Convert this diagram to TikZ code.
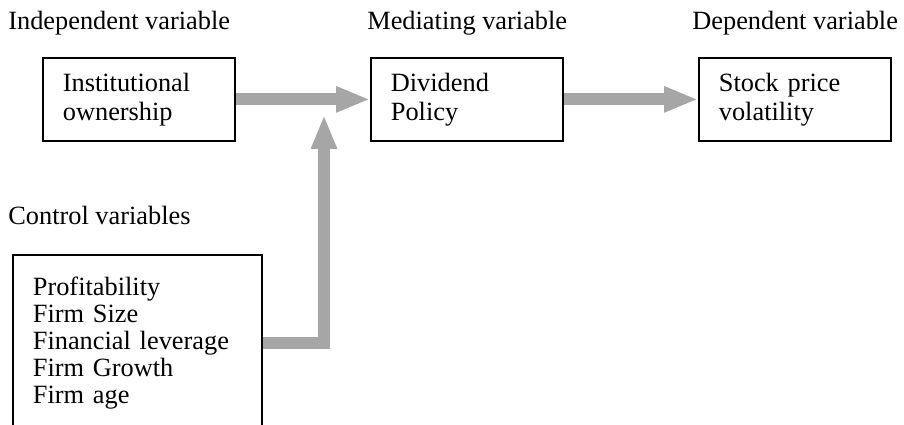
\documentclass[tikz,border=0pt]{standalone}
\usepackage{fontspec}
\setmainfont{Liberation Serif}
\definecolor{modelGray}{HTML}{A6A6A6}
\usepackage{tikz}
\usetikzlibrary{
	arrows.meta,
	positioning,
	calc
}
\tikzset{
	varbox/.style={draw, line width=1pt, minimum height=83*0.02cm, text width=3.04cm, inner xsep=0.4cm, align=left, anchor=north west, font=\fontsize{15}{16.6}\selectfont},
	flow/.style={modelGray, line width=0.24cm, -{Triangle[length=0.68cm, width=0.48cm]}},
	heading/.style={anchor=west, inner sep=0pt}
}

\begin{document}
\begin{tikzpicture}[x=0.02cm, y=-0.02cm, font=\fontsize{15}{15.4}\selectfont]
		\useasboundingbox (0,0) rectangle (904,425);
		\foreach \x/\y/\lab in {8/23/Independent variable, 367/23/Mediating variable, 692/23/Dependent variable, 8/215/Control variables}{
			\node[heading] at (\x,\y) {\lab};
		}
		\node[varbox] (inst) at (42,57) {Institutional\\ownership};
		\node[varbox] (div) at (370,57) {Dividend\\Policy};
		\node[varbox] (vol) at (698,57) {Stock price\\volatility};
		\node[draw, line width=1pt, anchor=north west, minimum height=176*0.02cm, text width=4.18cm, inner xsep=0.4cm, align=left] (ctrl) at (12,254)
			{Profitability\\Firm Size\\Financial leverage\\Firm Growth\\Firm age};
		\coordinate (join) at (324,115);
		\draw[flow] (inst) -- (div);
		\draw[flow] (div) -- (vol);
		\draw[flow] (ctrl.east) -| (join);
	\end{tikzpicture}
\end{document}
